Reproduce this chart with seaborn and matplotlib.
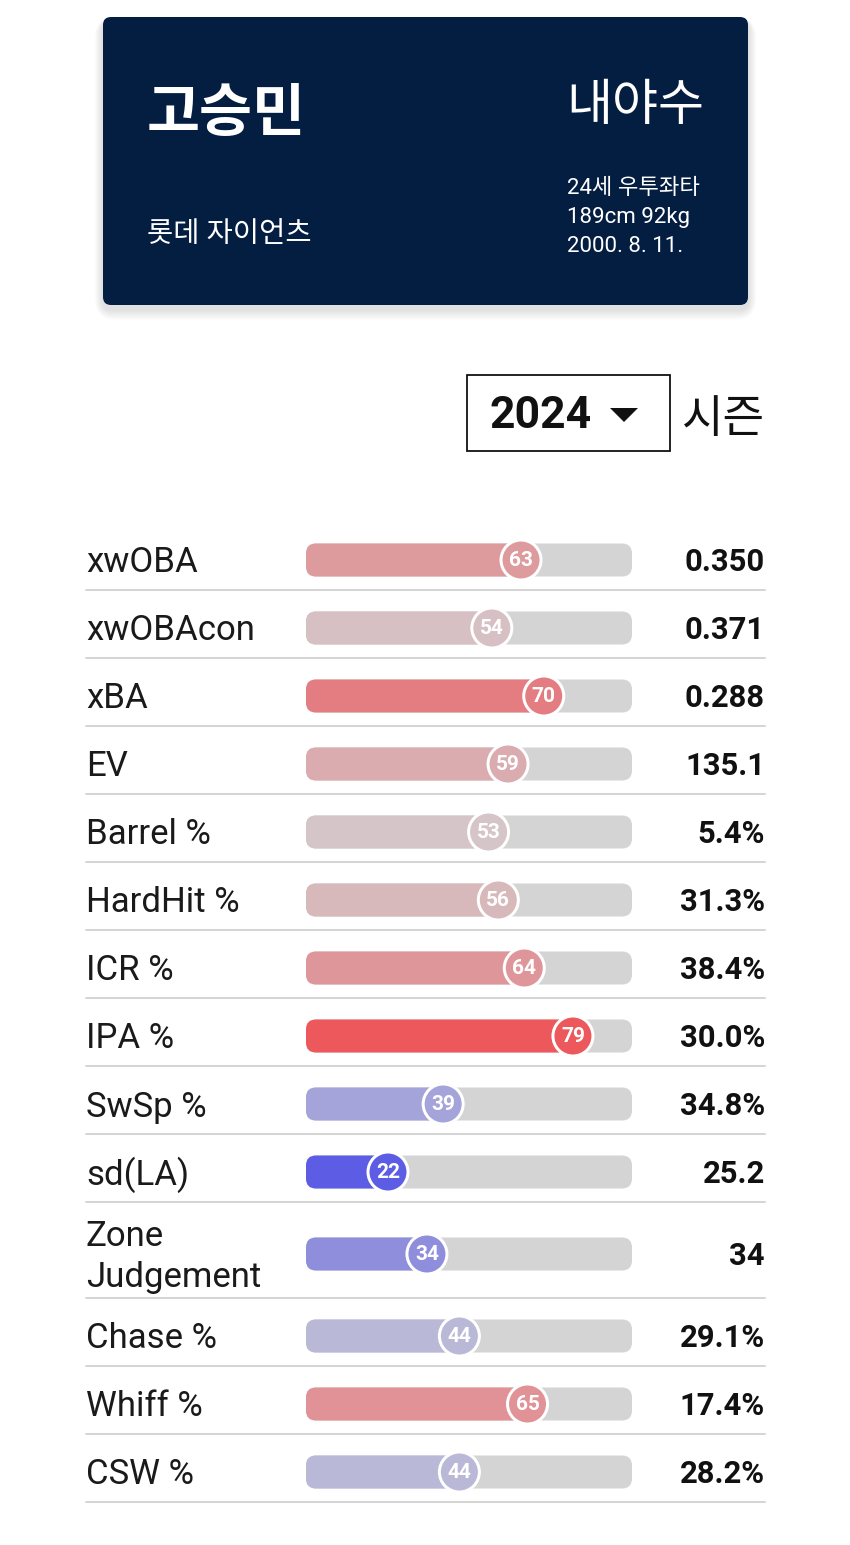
import numpy as np
import pandas as pd
import matplotlib
matplotlib.use("Agg")
import matplotlib.pyplot as plt
from matplotlib.patches import FancyBboxPatch, Rectangle, Polygon
import seaborn as sns

# ---------------- data ----------------
player_name = "고승민"
team_name = "롯데 자이언츠"
position = "내야수"
info_lines = ["24세 우투좌타", "189cm 92kg", "2000. 8. 11."]
season = "2024"
season_label = "시즌"

metrics = ["xwOBA", "xwOBAcon", "xBA", "EV", "Barrel %", "HardHit %", "ICR %",
           "IPA %", "SwSp %", "sd(LA)", "Zone\nJudgement", "Chase %", "Whiff %", "CSW %"]
percentiles = [63, 54, 70, 59, 53, 56, 64, 79, 39, 22, 34, 44, 65, 44]
stat_values = ["0.350", "0.371", "0.288", "135.1", "5.4%", "31.3%", "38.4%",
               "30.0%", "34.8%", "25.2", "34", "29.1%", "17.4%", "28.2%"]

# ---------------- style ----------------
sns.set_theme(style="white")
FONT = ["Roboto", "Noto Sans CJK KR", "DejaVu Sans"]
plt.rcParams["font.family"] = FONT

W, H = 850, 1545
fig = plt.figure(figsize=(W / 100, H / 100), dpi=100)
fig.patch.set_facecolor("white")

# overlay axes in pixel coordinates
ov = fig.add_axes([0, 0, 1, 1])
ov.set_xlim(0, W)
ov.set_ylim(H, 0)
ov.axis("off")
ov.set_facecolor("white")


def pct_color(v):
    mid = np.array([210, 209, 212]) / 255
    low = np.array([0, 0, 240]) / 255
    high = np.array([255, 0, 4]) / 255
    if v >= 50:
        t = (v - 50) / 50
        c = mid + (high - mid) * t
    else:
        t = (50 - v) / 50
        c = mid + (low - mid) * t
    return tuple(np.clip(c, 0, 1))


# ---------------- header card ----------------
NAVY = "#041e42"
cx, cy, cw, ch = 103, 17, 645, 288
for i in range(10):
    g = 2 + i * 1.3
    ov.add_patch(FancyBboxPatch((cx - g * 0.6, cy + 4 - g * 0.3), cw + g * 1.2, ch + g * 1.1,
                                boxstyle="round,pad=0,rounding_size=%f" % (8 + g),
                                fc="black", ec="none", alpha=0.012, zorder=1))
ov.add_patch(FancyBboxPatch((cx, cy), cw, ch, boxstyle="round,pad=0,rounding_size=8",
                            fc=NAVY, ec="none", zorder=2))
ov.text(147, 116, player_name, color="white", fontsize=41.5, fontweight="bold",
        ha="left", va="center", zorder=3)
ov.text(147, 234, team_name, color="white", fontsize=20.5, ha="left", va="center", zorder=3)
ov.text(704, 106, position, color="white", fontsize=36, ha="right", va="center", zorder=3)
for i, line in enumerate(info_lines):
    ov.text(567, 188 + i * 29.5, line, color="white", fontsize=16, ha="left",
            va="center", zorder=3)

# ---------------- season selector ----------------
ov.add_patch(Rectangle((467, 375), 203, 76, fc="white", ec="#111111", lw=1.3, zorder=2))
ov.text(490, 416, season, color="#111111", fontsize=32, fontweight="bold",
        ha="left", va="center", zorder=3)
ov.add_patch(Polygon([(610, 408), (638, 408), (624, 422)], closed=True,
                     fc="#111111", ec="none", zorder=3))
ov.text(682, 420, season_label, color="#111111", fontsize=32.5, ha="left", va="center", zorder=3)

# ---------------- rows layout ----------------
row_h = [96 if "\n" in m else 68 for m in metrics]
centers = []
y = 560 - 34
for h in row_h:
    centers.append(y + h / 2)
    y += h
centers = np.array(centers)

for m, c, h, sv in zip(metrics, centers, row_h, stat_values):
    ov.text(86, c + 3, m, color="#1a1a1a", fontsize=25, ha="left", va="center",
            linespacing=1.32, zorder=3)
    ov.text(765, c + 2, sv, color="#111111", fontsize=22.3, fontweight="bold",
            ha="right", va="center", zorder=3)
    ov.plot([86, 765], [c + h / 2 - 4] * 2, color="#d4d4d4", lw=1.4, zorder=2)

# ---------------- bars axes ----------------
TRACK_L, TRACK_R = -3.27, 97.2
px_left, px_right = 306, 632
ax = fig.add_axes([px_left / W, 0, (px_right - px_left) / W, 1])
ax.set_xlim(TRACK_L, TRACK_R)
ax.set_ylim(H, 0)
ax.axis("off")
ax.patch.set_alpha(0)

px_per_x = (px_right - px_left) / (TRACK_R - TRACK_L)
BAR_H = 33
RAD = 10
aspect = px_per_x  # y units are pixels

df = pd.DataFrame({"metric": metrics, "pct": percentiles, "y": centers})
colors = [pct_color(v) for v in percentiles]
pal = dict(zip(metrics, colors))

# tracks
for c in centers:
    ax.add_patch(FancyBboxPatch((TRACK_L, c - BAR_H / 2), TRACK_R - TRACK_L, BAR_H,
                                boxstyle="round,pad=0,rounding_size=%f" % (RAD / px_per_x),
                                mutation_aspect=aspect, fc="#d4d4d4", ec="none", zorder=1))

sns.barplot(data=df, x="pct", y="y", hue="metric", palette=pal, orient="h",
            native_scale=True, dodge=False, legend=False, width=BAR_H / 68, ax=ax,
            saturation=1)
ax.set_xlim(TRACK_L, TRACK_R)
ax.set_ylim(H, 0)
bars = [p for p in ax.patches if isinstance(p, Rectangle) and not isinstance(p, FancyBboxPatch)]
for p in bars:
    x0, y0, w, h = p.get_x(), p.get_y(), p.get_width(), p.get_height()
    fc = p.get_facecolor()
    p.remove()
    ax.add_patch(FancyBboxPatch((TRACK_L, y0), x0 + w - TRACK_L, h,
                                boxstyle="round,pad=0,rounding_size=%f" % (RAD / px_per_x),
                                mutation_aspect=aspect, fc=fc, ec="none", zorder=2))

# circles
diam_pt = 40 * 0.72
sns.scatterplot(data=df, x="pct", y="y", hue="metric", palette=pal, s=diam_pt ** 2,
                edgecolor="white", linewidth=3 * 0.72, legend=False, ax=ax, zorder=4)
ax.set_xlim(TRACK_L, TRACK_R)
ax.set_ylim(H, 0)
for v, c in zip(percentiles, centers):
    ax.text(v, c + 1, str(v), color="white", fontsize=15, fontweight="bold",
            ha="center", va="center", zorder=5)

fig.savefig("out.png", dpi=100, facecolor="white")
